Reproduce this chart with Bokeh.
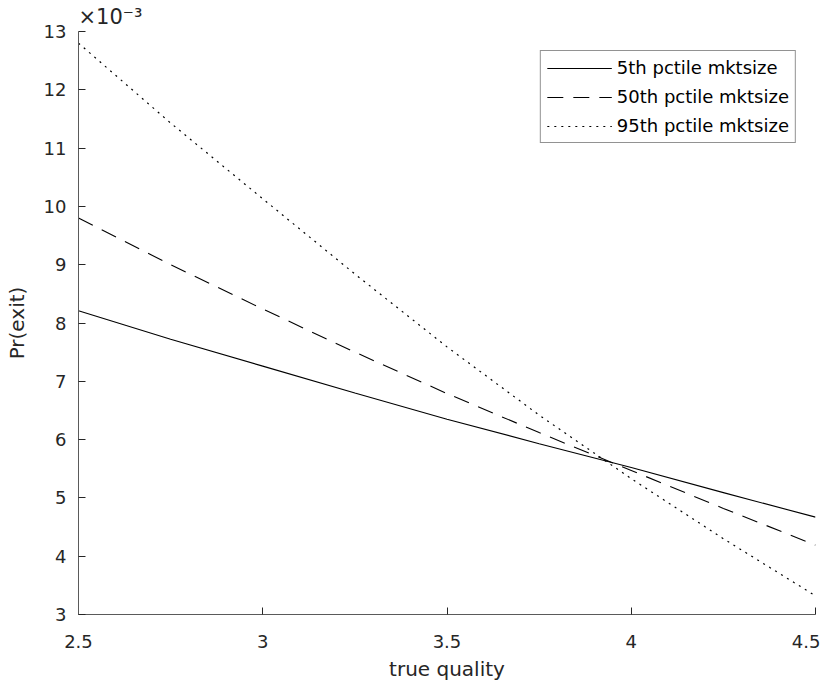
from bokeh.plotting import figure
from bokeh.models import Legend, LegendItem, Title
from bokeh.embed import file_html
from bokeh.resources import INLINE

# true quality (x) and Pr(exit) in units of 1e-3 (y)
quality = [2.5, 2.75, 3.0, 3.25, 3.5, 3.75, 4.0, 4.25, 4.5]
pr_5th = [8.21, 7.72, 7.26, 6.80, 6.35, 5.93, 5.52, 5.09, 4.67]
pr_50th = [9.80, 9.00, 8.24, 7.50, 6.79, 6.12, 5.47, 4.82, 4.19]
pr_95th = [12.80, 11.43, 10.13, 8.84, 7.59, 6.42, 5.33, 4.30, 3.32]
series_labels = ["5th pctile mktsize", "50th pctile mktsize", "95th pctile mktsize"]
x_ticks = [2.5, 3, 3.5, 4, 4.5]
y_ticks = [3, 4, 5, 6, 7, 8, 9, 10, 11, 12, 13]
exponent_text = "\u00d710\u207b\u00b3"

FONT = "DejaVu Sans"
TXT = "#262626"

p = figure(width=820, height=686, output_backend="svg", toolbar_location=None,
           x_range=(2.5, 4.5), y_range=(3, 13),
           min_border_left=78, min_border_right=5, min_border_top=31, min_border_bottom=72)
p.outline_line_color = None
p.grid.visible = False
p.background_fill_color = "white"
p.border_fill_color = "white"

r1 = p.line(quality, pr_5th, line_color="black", line_width=1.1)
r2 = p.line(quality, pr_50th, line_color="black", line_width=1.1, line_dash="16 10")
r3 = p.line(quality, pr_95th, line_color="black", line_width=1.2, line_dash="2 5")

for ax in (p.xaxis[0], p.yaxis[0]):
    ax.axis_line_color = "#5a5a5a"
    ax.axis_line_width = 1
    ax.major_tick_line_color = TXT
    ax.major_tick_in = 7
    ax.major_tick_out = 0
    ax.minor_tick_line_color = None
    ax.major_label_text_font = FONT
    ax.major_label_text_font_size = "18px"
    ax.major_label_text_color = TXT
    ax.axis_label_text_font = FONT
    ax.axis_label_text_font_size = "20px"
    ax.axis_label_text_font_style = "normal"
    ax.axis_label_text_color = TXT

p.xaxis.ticker = x_ticks
p.yaxis.ticker = y_ticks
p.xaxis.major_label_overrides = {2.5: "2.5", 3: "3", 3.5: "3.5", 4: "4", 4.5: "4.5"}
p.xaxis.axis_label = "true quality"
p.yaxis.axis_label = "Pr(exit)"
p.xaxis.major_label_standoff = 20
p.yaxis.major_label_standoff = 12
p.xaxis.axis_label_standoff = 6
p.yaxis.axis_label_standoff = 12

# exponent marker above the y axis
p.add_layout(Title(text=exponent_text, align="left", offset=0, standoff=5,
                   text_font=FONT, text_font_size="21px", text_color=TXT,
                   text_font_style="normal"), "above")

legend = Legend(items=[LegendItem(label=series_labels[0], renderers=[r1]),
                       LegendItem(label=series_labels[1], renderers=[r2]),
                       LegendItem(label=series_labels[2], renderers=[r3])],
                location="top_right", margin=19, padding=6, spacing=8,
                glyph_width=65, glyph_height=20, label_height=20, label_standoff=5,
                label_text_font=FONT, label_text_font_size="18px", label_text_color="black",
                border_line_color=TXT, border_line_width=1,
                background_fill_color="white", background_fill_alpha=1.0)
p.add_layout(legend)

open("out.html", "w").write(file_html(p, INLINE))
